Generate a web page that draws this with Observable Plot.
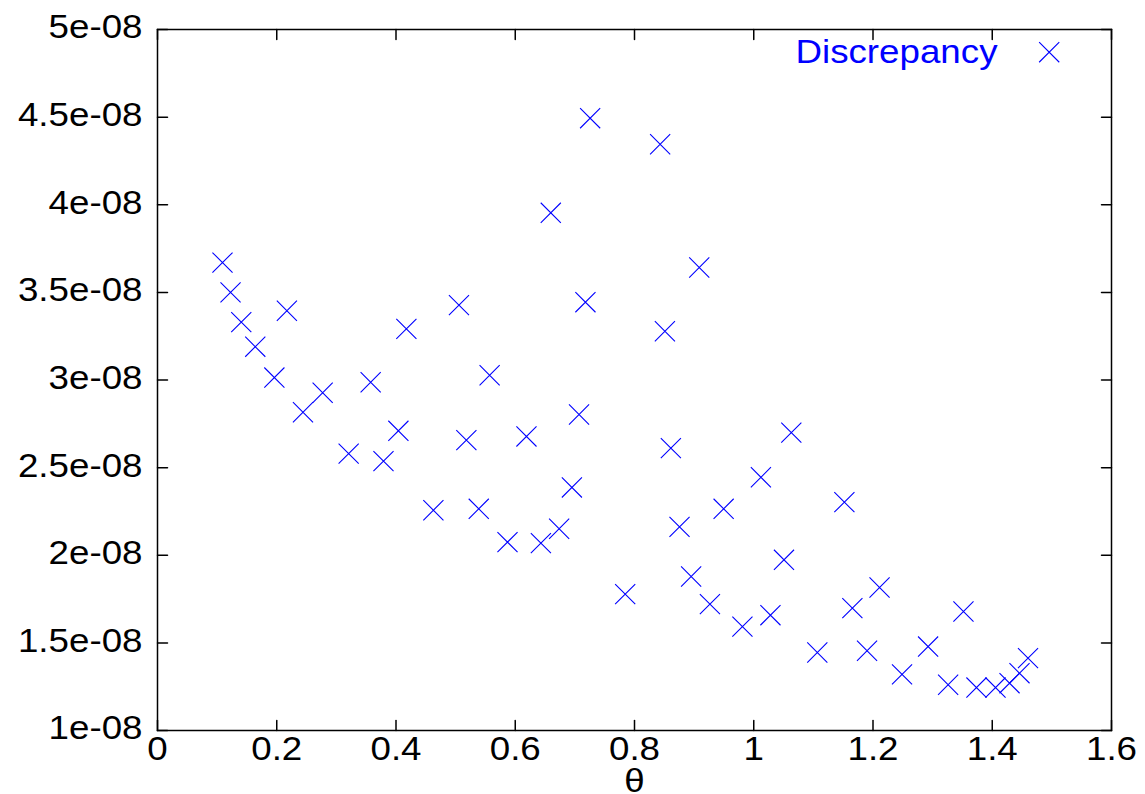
<!DOCTYPE html>
<html>
<head>
<meta charset="utf-8">
<script src="https://cdn.jsdelivr.net/npm/d3@7"></script>
<script src="https://cdn.jsdelivr.net/npm/@observablehq/plot@0.6"></script>
<style>
  html, body { margin: 0; padding: 0; background: #fff; overflow: hidden; }
</style>
</head>
<body>
<div id="chart"></div>
<script>
// θ values and discrepancy values
const theta = [0.109, 0.1225, 0.1405, 0.164, 0.196, 0.217, 0.244, 0.277, 0.3206, 0.3575,
  0.379, 0.404, 0.4174, 0.4627, 0.5056, 0.518, 0.5388, 0.557, 0.587, 0.6188,
  0.643, 0.6596, 0.6736, 0.695, 0.707, 0.7177, 0.7256, 0.7844, 0.843, 0.851,
  0.861, 0.8755, 0.895, 0.9086, 0.9265, 0.9495, 0.981, 1.012, 1.028, 1.0507,
  1.063, 1.1066, 1.152, 1.1654, 1.19, 1.211, 1.2487, 1.2924, 1.326, 1.3517,
  1.3735, 1.4055, 1.429, 1.4457, 1.460];
const discrepancy = [3.67e-8, 3.50e-8, 3.33e-8, 3.19e-8, 3.014e-8, 3.395e-8, 2.816e-8, 2.927e-8, 2.58e-8, 2.987e-8,
  2.537e-8, 2.71e-8, 3.292e-8, 2.257e-8, 3.427e-8, 2.657e-8, 2.265e-8, 3.027e-8, 2.075e-8, 2.678e-8,
  2.069e-8, 3.954e-8, 2.151e-8, 2.387e-8, 2.803e-8, 3.444e-8, 4.494e-8, 1.778e-8, 4.345e-8, 3.278e-8,
  2.611e-8, 2.162e-8, 1.879e-8, 3.642e-8, 1.721e-8, 2.265e-8, 1.593e-8, 2.445e-8, 1.658e-8, 1.974e-8,
  2.70e-8, 1.445e-8, 2.303e-8, 1.698e-8, 1.455e-8, 1.816e-8, 1.32e-8, 1.479e-8, 1.261e-8, 1.679e-8,
  1.245e-8, 1.245e-8, 1.27e-8, 1.327e-8, 1.413e-8];
const xTicks = [0, 0.2, 0.4, 0.6, 0.8, 1.0, 1.2, 1.4, 1.6];
const yTicks = [1e-8, 1.5e-8, 2e-8, 2.5e-8, 3e-8, 3.5e-8, 4e-8, 4.5e-8, 5e-8];
const seriesName = "Discrepancy";
const xLabel = "θ";

const points = theta.map((t, i) => ({theta: t, value: discrepancy[i]}));

const fmtE = v => {
  const [m, e] = d3.format("~e")(v).split("e");
  const n = +e;
  return `${m}e${n < 0 ? "-" : "+"}${String(Math.abs(n)).padStart(2, "0")}`;
};
const fmtX = d3.format("~g");

const FS = 34;
const STRETCH = 1.08;
const BLUE = "#0000ff";
const tickShape = {draw(context, l) { context.moveTo(0, 0); context.lineTo(0, -l); }};

const chart = Plot.plot({
  width: 1145,
  height: 794,
  marginLeft: 157,
  marginRight: 34,
  marginTop: 29,
  marginBottom: 64,
  style: {fontFamily: "'Liberation Sans', Arial, sans-serif", fontSize: FS + "px", background: "#fff", color: "#000"},
  x: {domain: [0, 1.6]},
  y: {domain: [1e-8, 5e-8]},
  marks: [
    // inward tick marks on all four sides
    Plot.vector(xTicks, {x: d => d, frameAnchor: "bottom", length: 10, rotate: 0, anchor: "start", shape: tickShape, stroke: "#000", strokeWidth: 1.5}),
    Plot.vector(xTicks, {x: d => d, frameAnchor: "top", length: 10, rotate: 180, anchor: "start", shape: tickShape, stroke: "#000", strokeWidth: 1.5}),
    Plot.vector(yTicks, {y: d => d, frameAnchor: "left", length: 10, rotate: 90, anchor: "start", shape: tickShape, stroke: "#000", strokeWidth: 1.5}),
    Plot.vector(yTicks, {y: d => d, frameAnchor: "right", length: 10, rotate: -90, anchor: "start", shape: tickShape, stroke: "#000", strokeWidth: 1.5}),
    Plot.axisX({ticks: xTicks, tickFormat: fmtX, tickSize: 0, tickPadding: 5, fontSize: FS, label: xLabel, labelAnchor: "center", labelArrow: "none", labelOffset: 61}),
    Plot.axisY({ticks: yTicks, tickFormat: fmtE, tickSize: 0, tickPadding: 15, fontSize: FS, dy: -2, label: null}),
    Plot.frame({stroke: "#000", strokeWidth: 1.5}),
    Plot.dot(points, {x: "theta", y: "value", symbol: "times", r: 9.2, stroke: BLUE, strokeWidth: 1.1}),
    // legend
    Plot.text([seriesName], {frameAnchor: "top-right", dx: -114, dy: 22.7, textAnchor: "end", lineAnchor: "middle", fill: BLUE, fontSize: FS}),
    Plot.dot([seriesName], {frameAnchor: "top-right", dx: -62.3, dy: 22.7, symbol: "times", r: 9.2, stroke: BLUE, strokeWidth: 1.1})
  ]
});

document.getElementById("chart").appendChild(chart);

// widen glyphs slightly (the reference font is horizontally stretched); anchors are preserved
d3.select(chart).selectAll("text").each(function() {
  if (this.querySelector("tspan")) return;
  const len = this.getComputedTextLength();
  if (len > 0) {
    this.setAttribute("textLength", (len * STRETCH).toFixed(2));
    this.setAttribute("lengthAdjust", "spacingAndGlyphs");
  }
});
</script>
</body>
</html>
